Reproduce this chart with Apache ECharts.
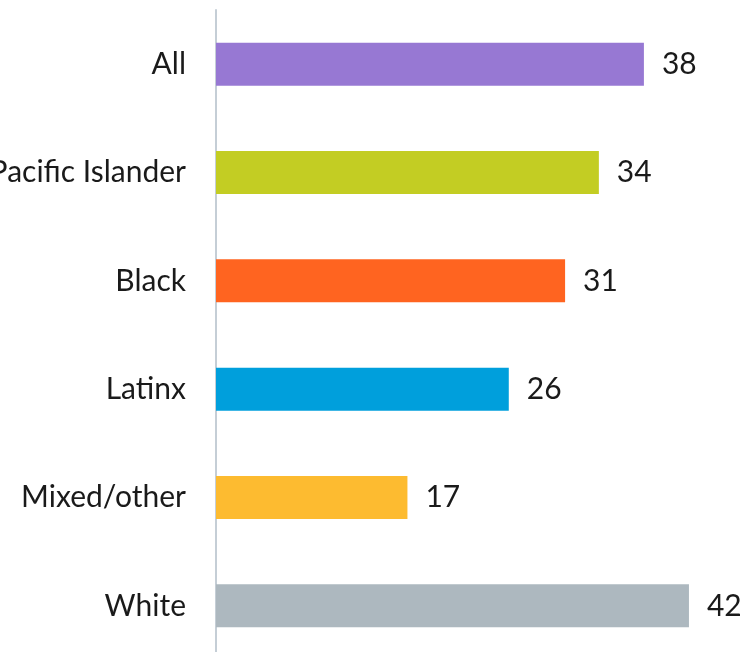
<!DOCTYPE html>
<html>
<head>
<meta charset="utf-8">
<script src="https://cdn.jsdelivr.net/npm/echarts@6/dist/echarts.min.js"></script>
<style>
  html, body { margin: 0; padding: 0; background: #ffffff; }
  #chart { width: 740px; height: 652px; }
</style>
</head>
<body>
<div id="chart"></div>
<script>
// Groups, top to bottom
const categories = ['All', 'Pacific Islander', 'Black', 'Latinx', 'Mixed/other', 'White'];
// Value per group
const values = [38, 34, 31, 26, 17, 42];
// Bar fill per group
const colors = ['#9778d3', '#c3cd23', '#ff6420', '#009fdc', '#fdbb30', '#adb8bf'];

const chart = echarts.init(document.getElementById('chart'));
const FONT = 'Lato, "Open Sans", sans-serif';

chart.setOption({
  animation: false,
  grid: {
    left: 216, top: 10, width: 518, height: 650,
    containLabel: false, outerBoundsMode: 'none'
  },
  xAxis: {
    type: 'value', min: 0, max: 46,
    show: false
  },
  yAxis: {
    type: 'category',
    inverse: true,
    data: categories,
    axisLine: { show: true, lineStyle: { color: '#c5ced6', width: 2 } },
    axisTick: { show: false },
    axisLabel: {
      color: '#1a1a1a', fontFamily: FONT, fontSize: 30, margin: 30,
      padding: [6, 0, 0, 0]
    }
  },
  series: [{
    type: 'bar',
    data: values.map((v, i) => ({ value: v, itemStyle: { color: colors[i] } })),
    barWidth: 43,
    label: {
      show: true, position: 'right', distance: 18,
      color: '#1a1a1a', fontFamily: FONT, fontSize: 30,
      padding: [6, 0, 0, 0]
    }
  }]
});
</script>
</body>
</html>
